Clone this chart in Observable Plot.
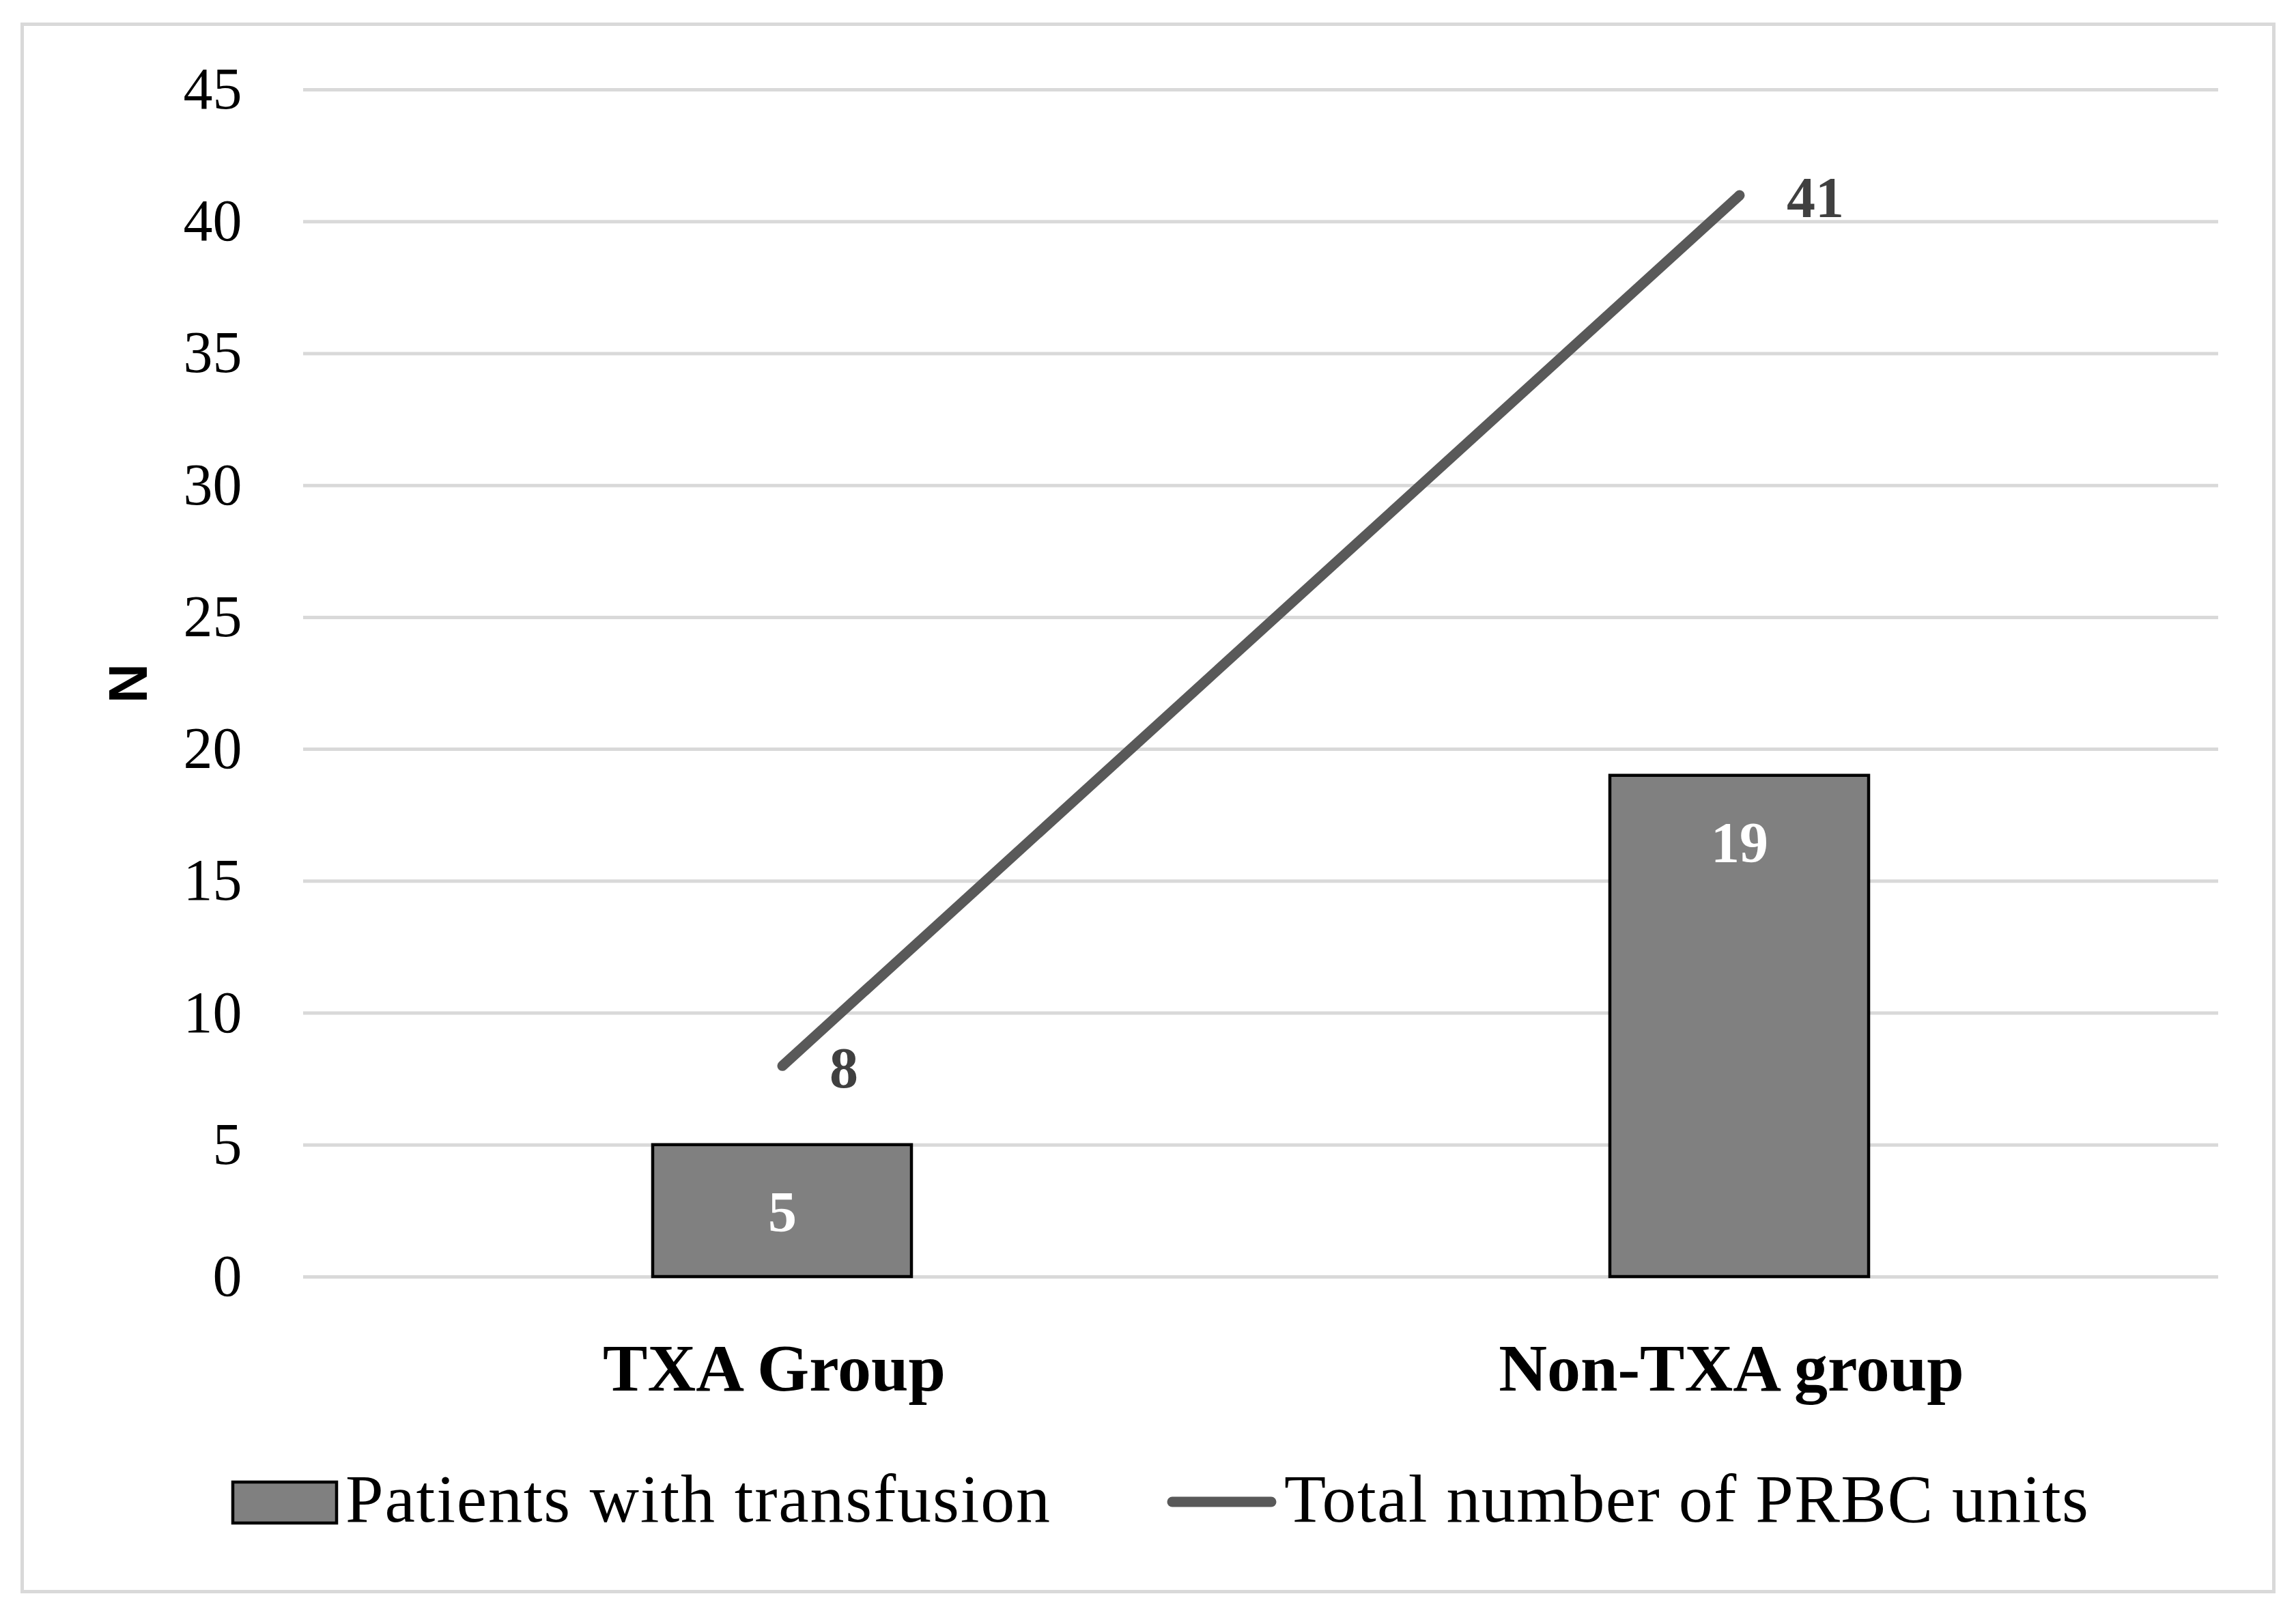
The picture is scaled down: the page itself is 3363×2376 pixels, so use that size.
<!DOCTYPE html>
<html><head><meta charset="utf-8">
<script src="https://cdn.jsdelivr.net/npm/d3@7"></script>
<script src="https://cdn.jsdelivr.net/npm/@observablehq/plot@0.6"></script>
<style>
html,body{margin:0;padding:0;background:#fff;}
#page{position:relative;width:3363px;height:2376px;overflow:hidden;background:#fff;}
#frame{position:absolute;left:30px;top:33px;width:3303px;height:2301px;box-sizing:border-box;border:5px solid #d9d9d9;}
#chart{position:absolute;left:0;top:0;}
#legend{position:absolute;left:0;top:2100px;}
</style>
</head><body>
<div id="page"><div id="frame"></div><div id="chart"></div><div id="legend"></div></div>
<script>
const categories = ["TXA Group", "Non-TXA group"];
const patientsWithTransfusion = [5, 19];
const totalPRBCUnits = [8, 41];
const yTicks = [0, 5, 10, 15, 20, 25, 30, 35, 40, 45];
const seriesNames = ["Patients with transfusion", "Total number of PRBC units"];
const yLabel = "N";

const rows = categories.map((c, i) => ({group: c, patients: patientsWithTransfusion[i], units: totalPRBCUnits[i]}));

const chart = Plot.plot({
  width: 3363, height: 2100,
  marginTop: 131, marginBottom: 230, marginLeft: 444, marginRight: 114,
  style: {fontFamily: "'Liberation Serif', serif", background: "transparent", color: "#000"},
  x: {domain: categories, paddingInner: 0.73, paddingOuter: 0.365, label: null},
  y: {domain: [0, 45], label: null},
  marks: [
    Plot.ruleY(yTicks, {stroke: "#d9d9d9", strokeWidth: 5}),
    Plot.barY(rows, {x: "group", y: "patients", fill: "#808080", stroke: "#000", strokeWidth: 4.5}),
    Plot.line(rows, {x: "group", y: "units", stroke: "#595959", strokeWidth: 15, strokeLinecap: "round"}),
    Plot.text(rows, {x: "group", y: "units", text: d => String(d.units), textAnchor: "start", dx: 69, dy: 5, fill: "#404040", fontWeight: "bold", fontSize: 84}),
    Plot.text(rows, {x: "group", y: "patients", text: d => String(d.patients), dy: 100, fill: "#fff", fontWeight: "bold", fontSize: 84}),
    Plot.axisY({ticks: yTicks, tickSize: 0, tickPadding: 90, fontSize: 86, label: null}),
    Plot.axisX({tickSize: 0, tickPadding: 97, dx: -12, fontSize: 98, fontWeight: "bold", label: null}),
    Plot.text([yLabel], {frameAnchor: "left", textAnchor: "middle", lineAnchor: "middle", dx: -255, rotate: -90, fontFamily: "'Liberation Sans', sans-serif", fontWeight: "bold", fontSize: 80, text: d => d})
  ]
});
document.getElementById("chart").appendChild(chart);

// Legend below the plot
const lg = d3.select("#legend").append("svg").attr("width", 3363).attr("height", 226)
  .style("font-family", "'Liberation Serif', serif");
lg.append("rect").attr("x", 341).attr("y", 71).attr("width", 152).attr("height", 60)
  .attr("fill", "#808080").attr("stroke", "#000").attr("stroke-width", 4.5);
lg.append("text").attr("x", 506).attr("y", 129).attr("font-size", 100).attr("letter-spacing", 1.8)
  .attr("fill", "#000").text(seriesNames[0]);
lg.append("line").attr("x1", 1717).attr("x2", 1862).attr("y1", 100).attr("y2", 100)
  .attr("stroke", "#595959").attr("stroke-width", 15).attr("stroke-linecap", "round");
lg.append("text").attr("x", 1881).attr("y", 129).attr("font-size", 100).attr("letter-spacing", 1.4)
  .attr("fill", "#000").text(seriesNames[1]);
</script>
</body></html>
